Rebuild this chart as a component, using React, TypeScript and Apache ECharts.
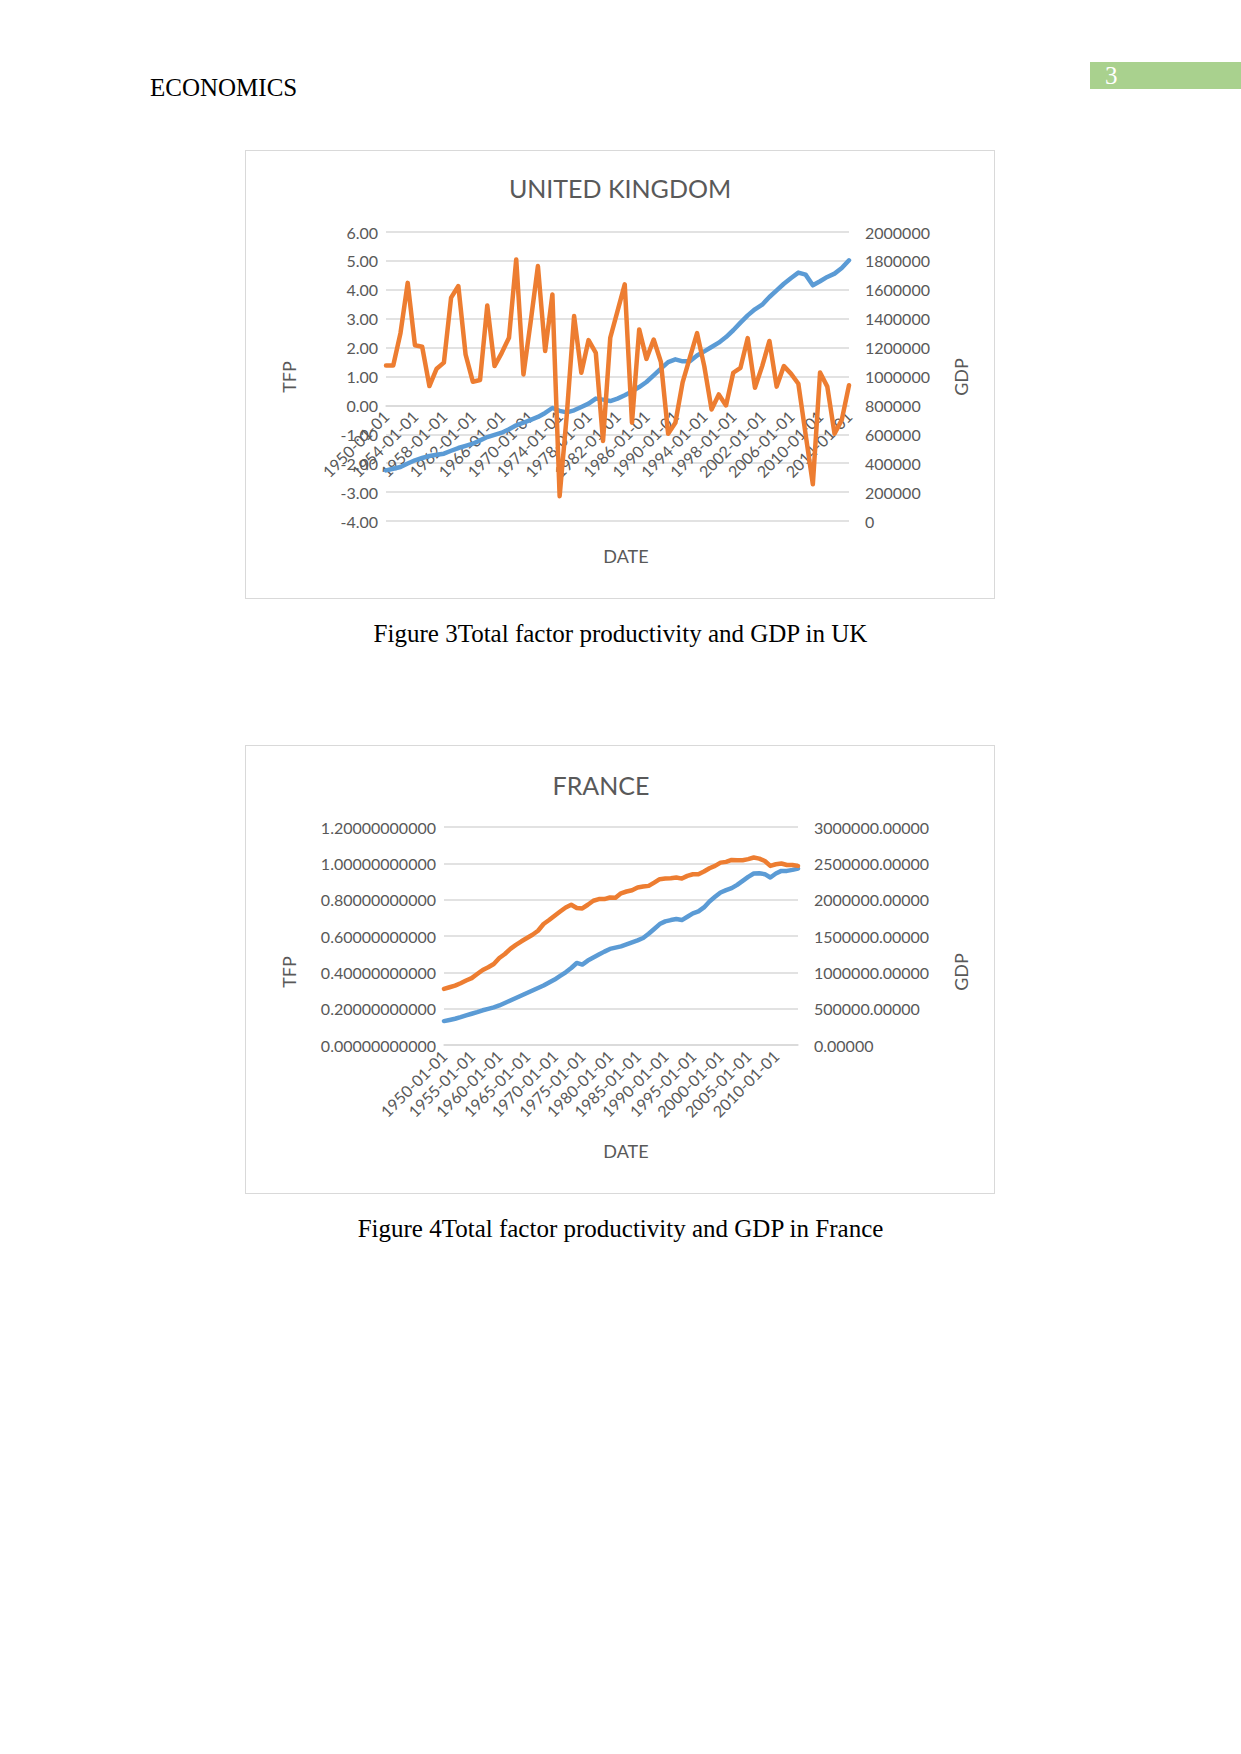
import React, { useEffect, useRef } from "react";
import * as echarts from "echarts";

const years: string[] = [
  "1950-01-01","1951-01-01","1952-01-01","1953-01-01","1954-01-01","1955-01-01","1956-01-01","1957-01-01","1958-01-01","1959-01-01",
  "1960-01-01","1961-01-01","1962-01-01","1963-01-01","1964-01-01","1965-01-01","1966-01-01","1967-01-01","1968-01-01","1969-01-01",
  "1970-01-01","1971-01-01","1972-01-01","1973-01-01","1974-01-01","1975-01-01","1976-01-01","1977-01-01","1978-01-01","1979-01-01",
  "1980-01-01","1981-01-01","1982-01-01","1983-01-01","1984-01-01","1985-01-01","1986-01-01","1987-01-01","1988-01-01","1989-01-01",
  "1990-01-01","1991-01-01","1992-01-01","1993-01-01","1994-01-01","1995-01-01","1996-01-01","1997-01-01","1998-01-01","1999-01-01",
  "2000-01-01","2001-01-01","2002-01-01","2003-01-01","2004-01-01","2005-01-01","2006-01-01","2007-01-01","2008-01-01","2009-01-01",
  "2010-01-01","2011-01-01","2012-01-01","2013-01-01","2014-01-01",
];

const ukTFP: number[] = [
  1.38, 1.38, 2.5, 4.24, 2.08, 2.03, 0.67, 1.27, 1.48, 3.73,
  4.13, 1.76, 0.82, 0.88, 3.46, 1.36, 1.82, 2.34, 5.05, 1.07,
  2.9, 4.82, 1.88, 3.84, -3.14, -0.3, 3.09, 1.13, 2.26, 1.82,
  -1.23, 2.34, 3.26, 4.19, -0.6, 2.63, 1.61, 2.28, 1.5, -0.98,
  -0.6, 0.8, 1.65, 2.5, 1.35, -0.14, 0.38, 0.0, 1.13, 1.3,
  2.33, 0.61, 1.36, 2.23, 0.65, 1.36, 1.09, 0.75, -1.0, -2.73,
  1.14, 0.65, -0.98, -0.5, 0.7,
];

const ukGDP: number[] = [
  350000, 362000, 374000, 398000, 420000, 436000, 450000, 458000, 466000, 486000,
  505000, 520000, 535000, 558000, 581000, 596000, 611000, 635000, 662000, 680000,
  700000, 720000, 748000, 782000, 762000, 752000, 766000, 789000, 812000, 847000,
  840000, 830000, 847000, 870000, 897000, 927000, 962000, 1008000, 1054000, 1100000,
  1119000, 1105000, 1105000, 1145000, 1174000, 1204000, 1234000, 1273000, 1320000, 1373000,
  1423000, 1465000, 1497000, 1550000, 1596000, 1642000, 1682000, 1719000, 1705000, 1631000,
  1659000, 1689000, 1712000, 1751000, 1804000,
];

const frTFP: number[] = [
  0.309, 0.318, 0.327, 0.34, 0.355, 0.368, 0.391, 0.413, 0.428, 0.446,
  0.479, 0.501, 0.529, 0.551, 0.571, 0.589, 0.607, 0.629, 0.666, 0.688,
  0.712, 0.735, 0.757, 0.772, 0.754, 0.752, 0.772, 0.794, 0.803, 0.803,
  0.812, 0.81, 0.835, 0.845, 0.852, 0.867, 0.872, 0.876, 0.894, 0.913,
  0.916, 0.918, 0.922, 0.916, 0.931, 0.94, 0.94, 0.955, 0.973, 0.986,
  1.004, 1.008, 1.019, 1.017, 1.017, 1.023, 1.032, 1.026, 1.013, 0.986,
  0.995, 0.999, 0.991, 0.991, 0.986,
];

const frGDP: number[] = [
  329000, 345000, 361000, 383000, 407000, 430000, 453000, 478000, 498000, 518000,
  544000, 578000, 613000, 647000, 681000, 715000, 750000, 784000, 818000, 860000,
  901000, 950000, 1001000, 1060000, 1129000, 1107000, 1162000, 1203000, 1244000, 1285000,
  1322000, 1340000, 1358000, 1385000, 1413000, 1440000, 1472000, 1530000, 1596000, 1664000,
  1701000, 1719000, 1733000, 1719000, 1765000, 1811000, 1838000, 1893000, 1975000, 2039000,
  2099000, 2131000, 2158000, 2204000, 2259000, 2314000, 2360000, 2364000, 2351000, 2305000,
  2360000, 2396000, 2396000, 2410000, 2428000,
];

const BLUE = "#5B9BD5";
const ORANGE = "#ED7D31";
const GREY_TEXT = "#595959";
const GRID = "#D9D9D9";
const FONT = "Lato, 'Open Sans', sans-serif";

type ChartCfg = {
  title: string;
  titleX: number;
  titleY: number;
  grid: { left: number; right: number; top: number; bottom: number };
  tfp: number[];
  gdp: number[];
  leftMin: number;
  leftMax: number;
  leftInterval: number;
  leftDigits: number;
  rightMax: number;
  rightInterval: number;
  rightDigits: number;
  labelInterval: number;
};

function buildOption(c: ChartCfg): any {
  const textStyle = (size: number) => ({
    fill: GREY_TEXT,
    font: `${size}px ${FONT}`,
    align: "center",
    verticalAlign: "middle",
    textAlign: "center",
    textVerticalAlign: "middle",
  });
  // place the category axis on the zero line of the left (TFP) axis
  const plotH = 449 - c.grid.top - c.grid.bottom;
  const zeroFromBottom = ((0 - c.leftMin) / (c.leftMax - c.leftMin)) * plotH;
  return {
    animation: false,
    grid: c.grid,
    graphic: [
      { type: "text", x: c.titleX, y: c.titleY, style: { text: c.title, ...textStyle(25) } },
      { type: "text", x: 44, y: 227, rotation: Math.PI / 2, style: { text: "TFP", ...textStyle(18) } },
      { type: "text", x: 716, y: 227, rotation: Math.PI / 2, style: { text: "GDP", ...textStyle(18) } },
      { type: "text", x: 381, y: 406, style: { text: "DATE", ...textStyle(18) } },
    ],
    xAxis: {
      type: "category",
      data: years,
      boundaryGap: false,
      offset: -zeroFromBottom,
      axisLine: { show: true, onZero: false, lineStyle: { color: GRID, width: 1.5 } },
      axisTick: { show: false },
      splitLine: { show: false },
      axisLabel: {
        interval: c.labelInterval,
        rotate: 45,
        fontSize: 16,
        fontFamily: FONT,
        color: GREY_TEXT,
        margin: 8,
      },
    },
    yAxis: [
      {
        type: "value",
        position: "left",
        min: c.leftMin,
        max: c.leftMax,
        interval: c.leftInterval,
        axisLine: { show: false },
        axisTick: { show: false },
        splitLine: { show: true, lineStyle: { color: GRID, width: 1.5 } },
        axisLabel: {
          fontSize: 16,
          fontFamily: FONT,
          color: GREY_TEXT,
          margin: 8,
          formatter: (v: number) => v.toFixed(c.leftDigits),
        },
      },
      {
        type: "value",
        position: "right",
        min: 0,
        max: c.rightMax,
        interval: c.rightInterval,
        axisLine: { show: false },
        axisTick: { show: false },
        splitLine: { show: false },
        axisLabel: {
          fontSize: 16,
          fontFamily: FONT,
          color: GREY_TEXT,
          margin: 16,
          formatter: (v: number) => v.toFixed(c.rightDigits),
        },
      },
    ],
    series: [
      {
        name: "GDP",
        type: "line",
        yAxisIndex: 1,
        data: c.gdp,
        showSymbol: false,
        symbol: "none",
        lineStyle: { color: BLUE, width: 4.5, cap: "round", join: "round" },
        itemStyle: { color: BLUE },
      },
      {
        name: "TFP",
        type: "line",
        yAxisIndex: 0,
        data: c.tfp,
        showSymbol: false,
        symbol: "none",
        lineStyle: { color: ORANGE, width: 4.5, cap: "round", join: "round" },
        itemStyle: { color: ORANGE },
      },
    ],
  };
}

function Chart({ cfg, left, top }: { cfg: ChartCfg; left: number; top: number }) {
  const ref = useRef<HTMLDivElement>(null);
  useEffect(() => {
    if (!ref.current) return;
    const chart = echarts.init(ref.current, undefined, { renderer: "svg" });
    chart.setOption(buildOption(cfg));
    return () => chart.dispose();
  }, []);
  return (
    <>
      <div
        ref={ref}
        style={{ position: "absolute", left, top, width: 750, height: 449 }}
      />
      <div
        style={{
          position: "absolute",
          left,
          top,
          width: 750,
          height: 449,
          boxSizing: "border-box",
          border: `1.5px solid ${GRID}`,
          pointerEvents: "none",
        }}
      />
    </>
  );
}

const ukCfg: ChartCfg = {
  title: "UNITED KINGDOM",
  titleX: 375,
  titleY: 38,
  grid: { left: 141, right: 146, top: 82, bottom: 78 },
  tfp: ukTFP,
  gdp: ukGDP,
  leftMin: -4,
  leftMax: 6,
  leftInterval: 1,
  leftDigits: 2,
  rightMax: 2000000,
  rightInterval: 200000,
  rightDigits: 0,
  labelInterval: 3,
};

const frCfg: ChartCfg = {
  title: "FRANCE",
  titleX: 356,
  titleY: 40,
  grid: { left: 199, right: 197, top: 82, bottom: 149 },
  tfp: frTFP,
  gdp: frGDP,
  leftMin: 0,
  leftMax: 1.2,
  leftInterval: 0.2,
  leftDigits: 11,
  rightMax: 3000000,
  rightInterval: 500000,
  rightDigits: 5,
  labelInterval: 4,
};

const serif = "'Liberation Serif', 'Times New Roman', serif";

export default function App() {
  return (
    <div
      style={{
        position: "absolute",
        left: 0,
        top: 0,
        width: 1241,
        height: 1754,
        background: "#fff",
        fontFamily: serif,
        color: "#000",
      }}
    >
      <div style={{ position: "absolute", left: 150, top: 75, fontSize: 25, lineHeight: "26px" }}>
        ECONOMICS
      </div>
      <div
        style={{
          position: "absolute",
          left: 1090,
          top: 62,
          width: 151,
          height: 27,
          background: "#A9D18E",
          color: "#fff",
          fontSize: 25,
          lineHeight: "27px",
          paddingLeft: 15,
          boxSizing: "border-box",
        }}
      >
        3
      </div>
      <Chart cfg={ukCfg} left={245} top={150} />
      <div
        style={{
          position: "absolute",
          left: 0,
          width: 1241,
          top: 621,
          textAlign: "center",
          fontSize: 25,
          lineHeight: "26px",
        }}
      >
        Figure 3Total factor productivity and GDP in UK
      </div>
      <Chart cfg={frCfg} left={245} top={745} />
      <div
        style={{
          position: "absolute",
          left: 0,
          width: 1241,
          top: 1216,
          textAlign: "center",
          fontSize: 25,
          lineHeight: "26px",
        }}
      >
        Figure 4Total factor productivity and GDP in France
      </div>
    </div>
  );
}
